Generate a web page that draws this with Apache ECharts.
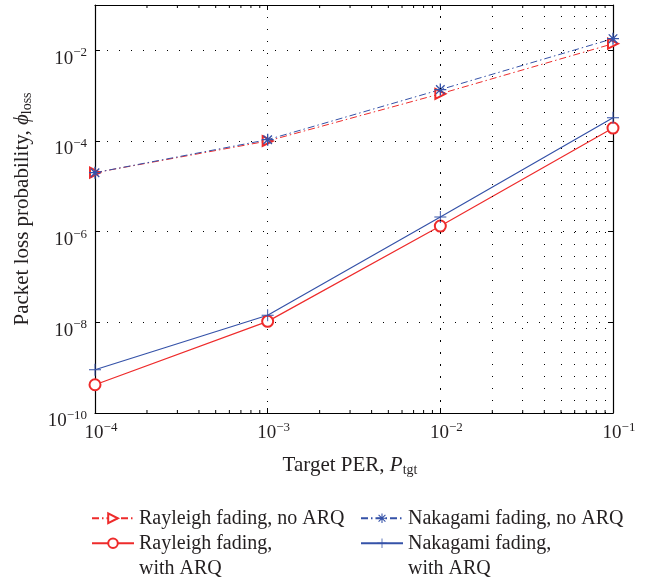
<!DOCTYPE html>
<html><head><meta charset="utf-8">
<script src="https://cdn.jsdelivr.net/npm/echarts@6/dist/echarts.min.js"></script>
<style>html,body{margin:0;padding:0;background:#fff}#c{width:661px;height:582px}</style>
</head><body><div id="c"></div>
<script>
const targetPER = [1e-4, 1e-3, 1e-2, 1e-1];
const rayleighNoARQ = [2.0e-5, 1.0e-4, 1.1e-3, 1.4e-2];
const nakagamiNoARQ = [2.0e-5, 1.07e-4, 1.36e-3, 1.81e-2];
const rayleighARQ = [4.2e-10, 1.05e-8, 1.33e-6, 1.93e-4];
const nakagamiARQ = [9.0e-10, 1.43e-8, 2.1e-6, 3.27e-4];
const xMinorTicks = [2e-4,3e-4,4e-4,5e-4,6e-4,7e-4,8e-4,9e-4,
                     2e-3,3e-3,4e-3,5e-3,6e-3,7e-3,8e-3,9e-3,
                     2e-2,3e-2,4e-2,5e-2,6e-2,7e-2,8e-2,9e-2];
const names = ['Rayleigh fading, no ARQ', 'Rayleigh fading, with ARQ',
               'Nakagami fading, no ARQ', 'Nakagami fading, with ARQ'];
const legendLabels = ['Rayleigh fading, no ARQ', '\nRayleigh fading,\nwith ARQ',
                      'Nakagami fading, no ARQ', '\nNakagami fading,\nwith ARQ'];

const RED = '#ee2b2b', BLUE = '#3552a8';
const TXT = '#231f20';
const FONT = 'Liberation Serif';
const STAR = 'path://M-1,-0.11L1,-0.11L1,0.11L-1,0.11Z M-0.11,-1L0.11,-1L0.11,1L-0.11,1Z M-0.63,-0.79L0.79,0.63L0.63,0.79L-0.79,-0.63Z M-0.63,0.79L-0.79,0.63L0.63,-0.79L0.79,-0.63Z';
const PLUS = 'path://M-1,-0.08L1,-0.08L1,0.08L-1,0.08Z M-0.08,-1L0.08,-1L0.08,1L-0.08,1Z';
const DOT = [1, 11];
const DASHDOT = [7, 3, 1.5, 3];

function pairs(ys) { return targetPER.map((x, i) => [x, ys[i]]); }
function expLabel(v) {
  const e = Math.round(Math.log10(v));
  return '{b|10}{s|' + (e < 0 ? '\u2212' + (-e) : e) + '}';
}
const tickRich = {
  b: {fontFamily: FONT, fontSize: 19, color: TXT, lineHeight: 22, verticalAlign: 'bottom'},
  s: {fontFamily: FONT, fontSize: 13, color: TXT, lineHeight: 10, verticalAlign: 'top'}
};
const nameRich = {
  i: {fontFamily: FONT, fontSize: 21, fontStyle: 'italic', color: TXT},
  s: {fontFamily: FONT, fontSize: 14, color: TXT, padding: [10, 0, 0, 0]}
};
const axisCommon = {
  type: 'log', logBase: 10,
  axisLine: {show: true, lineStyle: {color: '#000', width: 1.2}},
  axisTick: {show: true, inside: true, length: 5, lineStyle: {color: '#000'}},
  minorTick: {show: false},
  splitLine: {show: true, lineStyle: {color: '#000', type: DOT, width: 1}}
};

const chart = echarts.init(document.getElementById('c'), null, {renderer: 'canvas'});
chart.setOption({
  backgroundColor: '#fff',
  animation: false,
  grid: {left: 95, right: 48, top: 5, bottom: 169, containLabel: false, outerBoundsMode: 'none'},
  xAxis: [
    Object.assign({}, axisCommon, {
      position: 'bottom', min: 1e-4, max: 1e-1,
      axisLabel: {formatter: expLabel, rich: tickRich, margin: 8, padding: [0, 0, 0, 12]},
      name: 'Target PER, {i|P}{s|tgt}', nameLocation: 'middle', nameGap: 40,
      nameTextStyle: {fontFamily: FONT, fontSize: 21, color: TXT, rich: nameRich, padding: [0, 8, 0, 0]}
    }),
    Object.assign({}, axisCommon, {
      position: 'top', min: 1e-4, max: 1e-1,
      axisLabel: {show: false}, splitLine: {show: false}
    })
  ],
  yAxis: [
    Object.assign({}, axisCommon, {
      position: 'left', min: 1e-10, max: 1e-1, interval: 2,
      axisLabel: {formatter: expLabel, rich: tickRich, margin: 8, padding: [14, 0, 0, 0], showMaxLabel: false},
      name: 'Packet loss probability, {i|\u03D5}{s|loss}', nameLocation: 'middle', nameGap: 61,
      nameTextStyle: {fontFamily: FONT, fontSize: 21, color: TXT, rich: nameRich}
    }),
    Object.assign({}, axisCommon, {
      position: 'right', min: 1e-10, max: 1e-1, interval: 2,
      axisLabel: {show: false}, splitLine: {show: false}
    })
  ],
  legend: [
    {data: [names[0]], left: 91, top: 505.5},
    {data: [names[1]], left: 91, top: 505},
    {data: [names[2]], left: 360, top: 505.5},
    {data: [names[3]], left: 360, top: 505}
  ].map(l => Object.assign({
    orient: 'vertical', padding: 0, itemWidth: 42, itemHeight: 12, itemGap: 0,
    formatter: n => legendLabels[names.indexOf(n)],
    textStyle: {fontFamily: FONT, fontSize: 20, color: TXT, lineHeight: 25.5}
  }, l)),
  series: [
    {name: names[0], type: 'line', data: pairs(rayleighNoARQ),
     symbol: 'emptyTriangle', symbolRotate: -90, symbolSize: 10,
     lineStyle: {color: RED, width: 1, type: DASHDOT},
     itemStyle: {color: RED, borderWidth: 1}},
    {name: names[1], type: 'line', data: pairs(rayleighARQ),
     symbol: 'emptyCircle', symbolSize: 11,
     lineStyle: {color: RED, width: 1.2},
     itemStyle: {color: RED, borderWidth: 1}},
    {name: names[2], type: 'line', data: pairs(nakagamiNoARQ),
     symbol: STAR, symbolSize: 12,
     lineStyle: {color: BLUE, width: 1, type: DASHDOT},
     itemStyle: {color: BLUE}},
    {name: names[3], type: 'line', data: pairs(nakagamiARQ),
     symbol: PLUS, symbolSize: 12,
     lineStyle: {color: BLUE, width: 1.2},
     itemStyle: {color: BLUE},
     markLine: {silent: true, symbol: 'none', label: {show: false},
       lineStyle: {color: '#000', type: DOT, width: 1},
       data: xMinorTicks.map(v => ({xAxis: v}))}},
    {type: 'custom', silent: true, data: xMinorTicks.map(v => [v, 1e-5]),
     renderItem: function (params, api) {
       const x = api.coord([api.value(0), api.value(1)])[0];
       const cs = params.coordSys;
       const b = cs.y + cs.height;
       return {type: 'group', children: [
         {type: 'line', shape: {x1: x, y1: b, x2: x, y2: b - 3}, style: {stroke: '#000', lineWidth: 1}},
         {type: 'line', shape: {x1: x, y1: cs.y, x2: x, y2: cs.y + 3}, style: {stroke: '#000', lineWidth: 1}}
       ]};
     }}
  ]
});
</script></body></html>
